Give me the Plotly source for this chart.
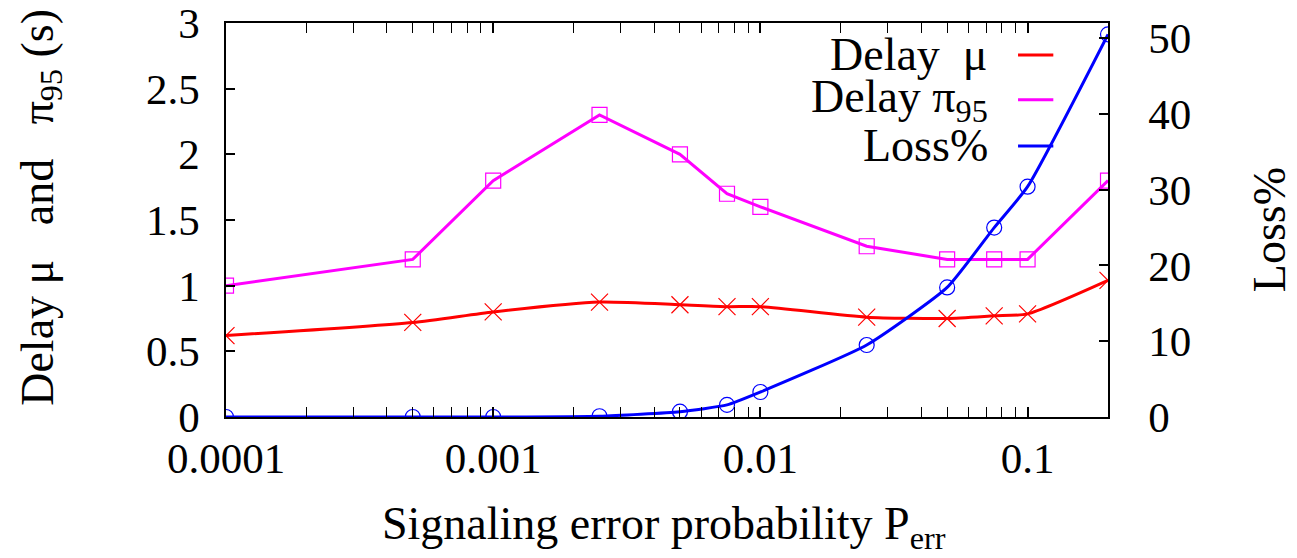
import math
import plotly.graph_objects as go

perr = [0.0001, 0.0005, 0.001, 0.0025, 0.005, 0.0075, 0.01, 0.025, 0.05, 0.075, 0.1, 0.2]
delay_mu = [0.62, 0.72, 0.80, 0.875, 0.855, 0.84, 0.84, 0.76, 0.75, 0.77, 0.785, 1.04]
delay_p95 = [1.0, 1.2, 1.8, 2.3, 2.0, 1.7, 1.6, 1.3, 1.2, 1.2, 1.2, 1.8]
loss_pct = [0.0, 0.0, 0.0, 0.1, 0.7, 1.6, 3.3, 9.5, 17.1, 25.0, 30.4, 50.5]

x_tickvals = [0.0001, 0.001, 0.01, 0.1]
x_ticktext = ["0.0001", "0.001", "0.01", "0.1"]
x_minor_vals = [m * d for d in [0.0001, 0.001, 0.01, 0.1] for m in range(2, 10) if m * d <= 0.2]
y_tickvals = [0, 0.5, 1, 1.5, 2, 2.5, 3]
y_ticktext = ["0", "0.5", "1", "1.5", "2", "2.5", "3"]
y2_tickvals = [0, 10, 20, 30, 40, 50]

legend_names = ["Delay\u00a0\u00a0μ", "Delay π<sub>95</sub>", "Loss%"]
colors = ["#ff0000", "#ff00ff", "#0000ff"]
x_title = "Signaling error probability P<sub>err</sub>"
y_title = "Delay μ\u00a0\u00a0\u00a0and\u00a0\u00a0\u00a0π<sub>95</sub> (s)"
y2_title = "Loss%"

FONT = "Times New Roman, Liberation Serif, serif"
FS_TICK = 43
FS_TEXT = 46

fig = go.Figure()
fig.add_trace(go.Scatter(
    x=perr, y=delay_mu, mode="lines+markers", name=legend_names[0],
    line=dict(color=colors[0], width=3, shape="spline", smoothing=0.6),
    marker=dict(symbol="x-thin-open", size=17, line=dict(color=colors[0], width=1.2)),
))
fig.add_trace(go.Scatter(
    x=perr, y=delay_p95, mode="lines+markers", name=legend_names[1],
    line=dict(color=colors[1], width=3),
    marker=dict(symbol="square-open", size=15, color=colors[1], line=dict(width=1.2)),
))
fig.add_trace(go.Scatter(
    x=perr, y=loss_pct, mode="lines+markers", name=legend_names[2], yaxis="y2",
    line=dict(color=colors[2], width=3, shape="spline", smoothing=0.5),
    marker=dict(symbol="circle-open", size=15, color=colors[2], line=dict(width=1.2)),
))

# legend drawn gnuplot-style (text right, line sample right of text)
leg_y = [0.919, 0.805, 0.688]
for name, c, yy in zip(legend_names, colors, leg_y):
    fig.add_annotation(xref="paper", yref="paper", x=0.866, y=yy, text=name,
                       showarrow=False, xanchor="right", yanchor="middle",
                       font=dict(family=FONT, size=FS_TEXT, color="black"))
    fig.add_shape(type="line", xref="paper", yref="paper", x0=0.898, x1=0.938,
                  y0=yy, y1=yy, line=dict(color=c, width=3))

# axis titles
fig.add_annotation(xref="paper", yref="paper", x=0.497, y=-0.28, text=x_title,
                   showarrow=False, xanchor="center", yanchor="middle",
                   font=dict(family=FONT, size=FS_TEXT, color="black"))
fig.add_annotation(xref="paper", yref="paper", x=-0.21, y=0.533, text=y_title,
                   showarrow=False, xanchor="center", yanchor="middle", textangle=-90,
                   font=dict(family=FONT, size=FS_TEXT, color="black"))
fig.add_annotation(xref="paper", yref="paper", x=1.184, y=0.475, text=y2_title,
                   showarrow=False, xanchor="center", yanchor="middle", textangle=-90,
                   font=dict(family=FONT, size=FS_TEXT, color="black"))

# page body has an 8px margin: size the figure to fit the window
fig.update_layout(
    width=1289, height=550,
    margin=dict(l=218, r=189, t=15, b=141),
    paper_bgcolor="white", plot_bgcolor="white",
    showlegend=False,
    font=dict(family=FONT, size=FS_TICK, color="black"),
    xaxis=dict(
        type="log", range=[-4, math.log10(0.2)],
        tickvals=x_tickvals, ticktext=x_ticktext,
        ticks="inside", ticklen=10, tickwidth=1.5, tickcolor="black",
        minor=dict(tickvals=x_minor_vals, ticks="inside", ticklen=5, tickwidth=1.2,
                   tickcolor="black", showgrid=False),
        showline=True, linecolor="black", linewidth=1.5, mirror="allticks",
        showgrid=False, zeroline=False, automargin=False,
        tickfont=dict(family=FONT, size=FS_TICK),
        ticklabelstandoff=3, ticklabeloverflow="allow",
    ),
    yaxis=dict(
        range=[0, 3], tickvals=y_tickvals, ticktext=y_ticktext,
        ticks="inside", ticklen=9, tickwidth=1.5, tickcolor="black",
        showline=True, linecolor="black", linewidth=1.5,
        showgrid=False, zeroline=False, automargin=False,
        tickfont=dict(family=FONT, size=FS_TICK),
        ticklabelstandoff=16, ticklabeloverflow="allow",
    ),
    yaxis2=dict(
        overlaying="y", side="right", range=[0, 52],
        tickvals=y2_tickvals,
        ticks="inside", ticklen=9, tickwidth=1.5, tickcolor="black",
        showline=True, linecolor="black", linewidth=1.5,
        showgrid=False, zeroline=False, automargin=False,
        tickfont=dict(family=FONT, size=FS_TICK),
        ticklabelstandoff=30, ticklabeloverflow="allow",
    ),
)

fig.write_html("out.html")
